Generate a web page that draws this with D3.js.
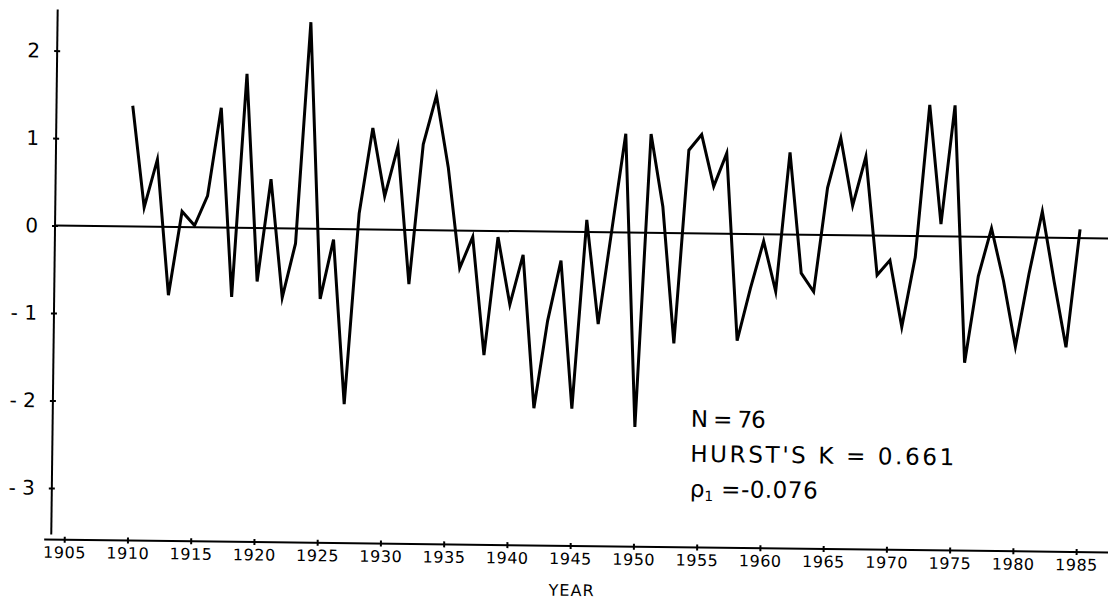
<!DOCTYPE html>
<html><head><meta charset="utf-8">
<script src="https://cdn.jsdelivr.net/npm/d3@7"></script>
<style>body{margin:0;background:#fff} svg{display:block}</style>
</head><body><svg id="c" width="1108" height="607"></svg>
<script>
const years = [1910,1911,1912,1913,1914,1915,1916,1917,1918,1919,
  1920,1921,1922,1923,1924,1925,1926,1927,1928,1929,
  1930,1931,1932,1933,1934,1935,1936,1937,1938,1939,
  1940,1941,1942,1943,1944,1945,1946,1947,1948,1949,
  1950,1951,1952,1953,1954,1955,1956,1957,1958,1959,
  1960,1961,1962,1963,1964,1965,1966,1967,1968,1969,
  1970,1971,1972,1973,1974,1975,1976,1977,1978,1979,
  1980,1981,1982,1983,1984,1985];
const values = [1.38,0.22,0.77,-0.78,0.18,0.02,0.36,1.37,-0.79,1.76,
  -0.61,0.56,-0.79,-0.17,2.36,-0.80,-0.12,-2.0,0.18,1.16,
  0.38,0.95,-0.62,0.98,1.54,0.72,-0.43,-0.07,-1.42,-0.07,
  -0.84,-0.27,-2.02,-1.02,-0.33,-2.02,0.14,-1.05,0.04,1.13,
  -2.22,1.13,0.30,-1.26,0.95,1.13,0.54,0.92,-1.22,-0.62,
  -0.08,-0.65,0.94,-0.44,-0.65,0.54,1.11,0.34,0.90,-0.45,
  -0.28,-1.04,-0.24,1.50,0.14,1.50,-1.44,-0.45,0.10,-0.50,
  -1.25,-0.42,0.30,-0.50,-1.25,0.10];
const xTicks = [1905,1910,1915,1920,1925,1930,1935,1940,1945,1950,1955,1960,1965,1970,1975,1980,1985];
const yTicks = [2,1,0,-1,-2,-3];
const xTitle = "YEAR";
const noteN = "N = 76";
const noteK = "HURST'S K = 0.661";
const noteRho = ["ρ", "1", " =-0.076"];

const svg = d3.select("#c");
const g = svg.append("g").attr("transform", "rotate(0.7,580,232)");
const font = "'DejaVu Sans', sans-serif";

const x = d3.scaleLinear().domain([1905, 1985]).range([68, 1080]);
const y = d3.scaleLinear().domain([-3, 2]).range([494.5, 57]);

// y axis
const yAx = g.append("g").attr("transform", "translate(55,0)");
yAx.append("line").attr("x1", 0).attr("x2", 0).attr("y1", 16).attr("y2", 541)
  .attr("stroke", "#000").attr("stroke-width", 2);
yAx.call(d3.axisLeft(y).tickValues(yTicks).tickSize(3).tickPadding(14).tickFormat(d => d === 0 ? "0" : (d < 0 ? "- " + Math.abs(d) : d)))
  .call(a => a.select(".domain").remove())
  .call(a => a.selectAll(".tick line").attr("x1", -3).attr("x2", 3).attr("stroke-width", 2))
  .call(a => a.selectAll("text").attr("font-size", 20).attr("font-family", font).attr("fill", "#000"));

// x axis
const xAx = g.append("g").attr("transform", "translate(0,546)");
xAx.append("line").attr("x1", 48).attr("x2", 1112).attr("y1", 0).attr("y2", 0)
  .attr("stroke", "#000").attr("stroke-width", 2);
xAx.call(d3.axisBottom(x).tickValues(xTicks).tickSize(3).tickPadding(4).tickFormat(d3.format("d")))
  .call(a => a.select(".domain").remove())
  .call(a => a.selectAll(".tick line").attr("y1", -3).attr("y2", 3).attr("stroke-width", 2))
  .call(a => a.selectAll("text").attr("font-size", 16).attr("font-family", font).attr("letter-spacing", 0.5).attr("fill", "#000"));

g.append("text").attr("x", 576).attr("y", 596).attr("text-anchor", "middle")
  .attr("font-size", 16).attr("letter-spacing", 1).attr("font-family", font).text(xTitle);

// zero line
g.append("line").attr("x1", 55).attr("x2", 1112).attr("y1", y(0)).attr("y2", y(0))
  .attr("stroke", "#000").attr("stroke-width", 2);

// series
const line = d3.line().x((d, i) => x(years[i])).y(d => y(d));
g.append("path").attr("d", line(values)).attr("fill", "none")
  .attr("stroke", "#000").attr("stroke-width", 3).attr("stroke-linejoin", "miter").attr("stroke-miterlimit", 6);

// notes
const nx = 693;
g.append("text").attr("x", nx).attr("y", 425.5).attr("font-size", 23).attr("font-family", font)
  .attr("textLength", 75).attr("lengthAdjust", "spacing").text(noteN);
g.append("text").attr("x", nx).attr("y", 460.5).attr("font-size", 23).attr("font-family", font)
  .attr("textLength", 264).attr("lengthAdjust", "spacing").text(noteK);
const t3 = g.append("text").attr("x", nx).attr("y", 495.5).attr("font-size", 23).attr("font-family", font);
t3.append("tspan").text(noteRho[0]);
t3.append("tspan").attr("font-size", 14).attr("dy", 4).text(noteRho[1]);
t3.append("tspan").attr("dy", -4).attr("letter-spacing", 0.5).text(noteRho[2]);
</script></body></html>
